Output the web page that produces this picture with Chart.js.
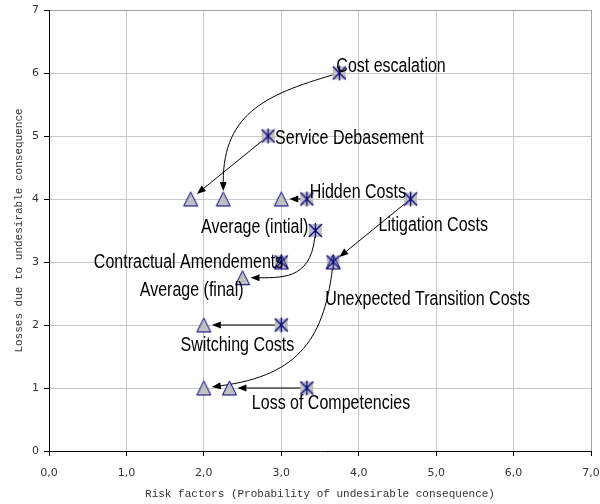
<!DOCTYPE html>
<html>
<head>
<meta charset="utf-8">
<script src="https://cdn.jsdelivr.net/npm/chart.js@4/dist/chart.umd.min.js"></script>
<style>
  html, body { margin: 0; padding: 0; background: #fff; }
  #wrap { width: 600px; height: 504px; position: relative; }
</style>
</head>
<body>
<div id="wrap"><canvas id="risk-chart"></canvas></div>
<script>
// risk factors: initial position (stars) and final position (triangles)
const riskNames = ['Cost escalation', 'Service Debasement', 'Hidden Costs', 'Litigation Costs',
    'Average (intial)', 'Contractual Amendements', 'Unexpected Transition Costs',
    'Switching Costs', 'Loss of Competencies'];
const initialX = [3.75, 2.83, 3.33, 4.67, 3.44, 3.0, 3.67, 3.0, 3.33];
const initialY = [6, 5, 4, 4, 3.5, 3, 3, 2, 1];
const finalX = [2.25, 1.83, 3.0, 3.67, 2.5, 3.0, 2.0, 2.0, 2.33];
const finalY = [4, 4, 4, 3, 2.75, 3, 1, 2, 1];

// text labels and the point each one sits next to
const labelTexts = ['Cost escalation', 'Service Debasement', 'Hidden Costs', 'Litigation Costs',
    'Average (intial)', 'Contractual Amendements', 'Unexpected Transition Costs',
    'Switching Costs', 'Loss of Competencies', 'Average (final)'];
const labelX = [3.75, 2.83, 3.33, 4.67, 3.44, 3.0, 3.67, 3.0, 3.33, 2.5];
const labelY = [6, 5, 4, 4, 3.5, 3, 3, 2, 1, 2.75];

const xTicks = [0, 1, 2, 3, 4, 5, 6, 7];
const yTicks = [0, 1, 2, 3, 4, 5, 6, 7];

// styling: label offsets (px) and arrow shapes
const labelStyle = [
    { align: 'left', dx: -3, dy: -1 },
    { align: 'left', dx: 7, dy: 8 },
    { align: 'left', dx: 3, dy: -1 },
    { align: 'left', dx: -32, dy: 32 },
    { align: 'right', dx: -7, dy: 2 },
    { align: 'right', dx: 2, dy: 6 },
    { align: 'left', dx: -8, dy: 43 },
    { align: 'right', dx: 13, dy: 26 },
    { align: 'left', dx: -55, dy: 21 },
    { align: 'right', dx: 1, dy: 18 }
];
const arrowShape = [
    { c1: [0.6, 0.16], c2: [1, 0.3] },
    'line',
    'line',
    'line',
    { c1: [0.03, 1], c2: [0.4, 1] },
    'none',
    { c1: [0.06, 0.6], c2: [0.26, 0.9] },
    'line',
    'line'
];

const NAVY = '#000080';
const GREY = '#c0c0c0';

function makeMarker(kind) {
    const c = document.createElement('canvas');
    c.width = 17; c.height = 17;
    const g = c.getContext('2d');
    g.lineWidth = 1;
    g.strokeStyle = NAVY;
    if (kind === 'box') {
        g.fillStyle = GREY;
        g.fillRect(2, 2, 13, 13);
    } else if (kind === 'tri') {
        g.beginPath();
        g.moveTo(8.5, 1.5);
        g.lineTo(15.5, 15.5);
        g.lineTo(1.5, 15.5);
        g.closePath();
        g.fillStyle = GREY;
        g.fill();
        g.stroke();
    } else {
        g.lineWidth = 1.3;
        g.beginPath();
        g.moveTo(2, 2); g.lineTo(15, 15);
        g.moveTo(15, 2); g.lineTo(2, 15);
        g.moveTo(8.5, 1); g.lineTo(8.5, 16);
        g.stroke();
    }
    return c;
}
const boxImg = makeMarker('box');
const triImg = makeMarker('tri');
const astImg = makeMarker('ast');

const initialPts = initialX.map((x, i) => ({ x: x, y: initialY[i] }));
const finalPts = finalX.map((x, i) => ({ x: x, y: finalY[i] }));

const overlay = {
    id: 'overlay',
    beforeDatasetsDraw(chart) {
        const ctx = chart.ctx;
        const xs = chart.scales.x, ys = chart.scales.y;
        ctx.save();
        ctx.strokeStyle = '#000';
        ctx.fillStyle = '#000';
        ctx.lineWidth = 1;
        riskNames.forEach((name, i) => {
            const shape = arrowShape[i];
            if (shape === 'none') return;
            const p0 = { x: xs.getPixelForValue(initialX[i]), y: ys.getPixelForValue(initialY[i]) };
            const p1 = { x: xs.getPixelForValue(finalX[i]), y: ys.getPixelForValue(finalY[i]) };
            const s = shape === 'line' ? { c1: [1 / 3, 1 / 3], c2: [2 / 3, 2 / 3] } : shape;
            const c1 = { x: p0.x + (p1.x - p0.x) * s.c1[0], y: p0.y + (p1.y - p0.y) * s.c1[1] };
            const c2 = { x: p0.x + (p1.x - p0.x) * s.c2[0], y: p0.y + (p1.y - p0.y) * s.c2[1] };
            let dx = p1.x - c2.x, dy = p1.y - c2.y;
            let len = Math.hypot(dx, dy) || 1;
            dx /= len; dy /= len;
            const gap = 8;
            const tip = { x: p1.x - dx * gap, y: p1.y - dy * gap };
            const headLen = 9, headW = 3.5;
            const base = { x: tip.x - dx * headLen, y: tip.y - dy * headLen };
            ctx.beginPath();
            ctx.moveTo(p0.x, p0.y);
            if (shape === 'line') {
                ctx.lineTo(base.x, base.y);
            } else {
                ctx.bezierCurveTo(c1.x, c1.y, c2.x, c2.y, base.x, base.y);
            }
            ctx.stroke();
            ctx.beginPath();
            ctx.moveTo(tip.x, tip.y);
            ctx.lineTo(base.x - dy * headW, base.y + dx * headW);
            ctx.lineTo(base.x + dy * headW, base.y - dx * headW);
            ctx.closePath();
            ctx.fill();
        });
        ctx.restore();
    },
    afterDatasetsDraw(chart) {
        const ctx = chart.ctx;
        const xs = chart.scales.x, ys = chart.scales.y;
        ctx.save();
        ctx.font = '20px "Liberation Sans", Arial, sans-serif';
        ctx.fillStyle = '#000';
        ctx.textBaseline = 'alphabetic';
        labelTexts.forEach((t, i) => {
            const st = labelStyle[i];
            const px = xs.getPixelForValue(labelX[i]) + st.dx;
            const py = ys.getPixelForValue(labelY[i]) + st.dy;
            ctx.save();
            ctx.translate(px, py);
            ctx.scale(0.8, 1);
            ctx.textAlign = st.align;
            ctx.fillText(t, 0, 0);
            ctx.restore();
        });
        ctx.restore();
    }
};

const gridColor = c => (c.tick && c.tick.value === 7) ? '#a0a0a0' : '#c8c8c8';

new Chart(document.getElementById('risk-chart'), {
    type: 'scatter',
    data: {
        datasets: [{
            label: 'initial',
            data: initialPts,
            pointStyle: astImg,
            pointRadius: 8,
            order: 0
        }, {
            label: 'final',
            data: finalPts,
            pointStyle: triImg,
            pointRadius: 8,
            order: 1
        }, {
            label: 'initial box',
            data: initialPts,
            pointStyle: boxImg,
            pointRadius: 8,
            order: 2
        }]
    },
    options: {
        responsive: true,
        maintainAspectRatio: false,
        animation: false,
        events: [],
        layout: { padding: { top: 10, right: 9, left: 0, bottom: 0 } },
        plugins: {
            legend: { display: false },
            tooltip: { enabled: false }
        },
        scales: {
            x: {
                type: 'linear',
                min: xTicks[0],
                max: xTicks[xTicks.length - 1],
                afterBuildTicks: s => { s.ticks = xTicks.map(v => ({ value: v })); },
                afterFit: s => { s.height = 53; s.paddingLeft = 0; s.paddingRight = 0; },
                ticks: {
                    color: '#333',
                    padding: 11,
                    maxRotation: 0,
                    font: { family: '"DejaVu Sans", sans-serif', size: 11 },
                    callback: v => v.toFixed(1).replace('.', ',')
                },
                grid: { color: gridColor, tickColor: '#000', tickLength: 5 },
                border: { color: '#000', width: 1 },
                title: {
                    display: true,
                    text: 'Risk factors (Probability of undesirable consequence)',
                    color: '#333',
                    font: { family: '"Liberation Mono", monospace', size: 11 },
                    padding: { top: 3, bottom: 3 }
                }
            },
            y: {
                type: 'linear',
                min: yTicks[0],
                max: yTicks[yTicks.length - 1],
                afterBuildTicks: s => { s.ticks = yTicks.map(v => ({ value: v })); },
                afterFit: s => { s.width = 49; s.paddingTop = 0; s.paddingBottom = 0; },
                ticks: {
                    color: '#333',
                    padding: 5,
                    font: { family: '"DejaVu Sans", sans-serif', size: 11 },
                    callback: v => String(v)
                },
                grid: { color: gridColor, tickColor: '#000', tickLength: 5 },
                border: { color: '#000', width: 1 },
                title: {
                    display: true,
                    text: 'Losses due to undesirable consequence',
                    color: '#333',
                    font: { family: '"Liberation Mono", monospace', size: 11 },
                    padding: { top: 12, bottom: 3 }
                }
            }
        }
    },
    plugins: [overlay]
});
</script>
</body>
</html>
